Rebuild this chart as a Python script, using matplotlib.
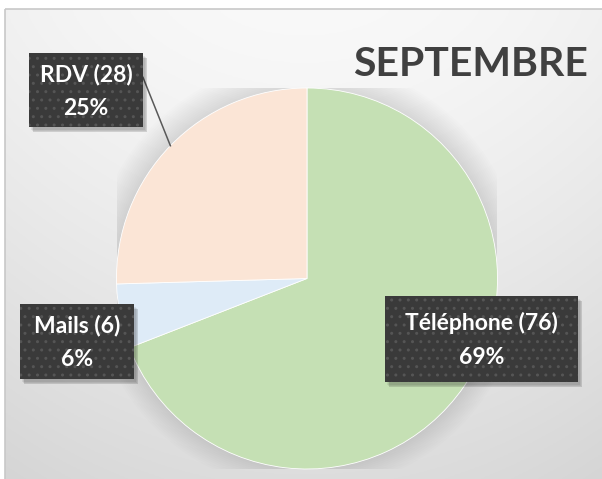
import numpy as np
import matplotlib
matplotlib.use("Agg")
import matplotlib.pyplot as plt
from matplotlib.patches import Rectangle, Circle

plt.rcParams['hatch.linewidth'] = 1.0

# données
categories = ['Téléphone', 'Mails', 'RDV']
valeurs = [76, 6, 28]
pourcentages = ['69%', '6%', '25%']
couleurs = ['#C5E0B4', '#DEEBF7', '#FBE5D6']
titre = 'SEPTEMBRE'

W, H = 602, 479
fig = plt.figure(figsize=(W / 100, H / 100), dpi=100)

# fond en pixels
bg = fig.add_axes([0, 0, 1, 1])
bg.set_xlim(0, W)
bg.set_ylim(H, 0)
bg.axis('off')
yy = np.linspace(0, 1, 200)[:, None]
xx = np.linspace(0, 1, 200)[None, :]
grad = 0.975 - 0.11 * yy ** 1.3 - 0.03 * (np.abs(xx - 0.5) * 2) ** 2
grad = np.clip(grad, 0, 1)
bg.imshow(np.dstack([grad] * 3), extent=[5, W + 2, H + 2, 9], aspect='auto', zorder=0)
bg.add_patch(Rectangle((5, 9), W, H, fill=False, edgecolor='#c8c8c8', lw=1.2, zorder=1))

# camembert
cx, cy, r = 307, 278.5, 190.5
ax = fig.add_axes([(cx - r) / W, (H - cy - r) / H, 2 * r / W, 2 * r / H])
for k in range(14):
    ax.add_patch(Circle((0, 0.015), 1.0 + 0.01 * k, color='#000000', alpha=0.007, lw=0, zorder=0))
wedges, _ = ax.pie(valeurs, colors=couleurs, startangle=90, counterclock=False,
                   wedgeprops=dict(linewidth=0.6, edgecolor='white'))
for w in wedges:
    w.set_zorder(2)
ax.set_xlim(-1, 1)
ax.set_ylim(-1, 1)
ax.set_aspect('equal')
ax.axis('off')

# calque du dessus pour les étiquettes
top = fig.add_axes([0, 0, 1, 1])
top.set_xlim(0, W)
top.set_ylim(H, 0)
top.axis('off')
top.patch.set_alpha(0)

boites = {
    'Téléphone': (385, 296, 193, 86),
    'Mails': (20, 304, 114, 75),
    'RDV': (29, 53, 114, 74),
}
for i, nom in enumerate(categories):
    x0, y0, bw, bh = boites[nom]
    for k in range(4):
        top.add_patch(Rectangle((x0 + 2 + k * 0.8, y0 + 3 + k * 0.8), bw, bh,
                                facecolor='black', alpha=0.07, lw=0, zorder=5))
    top.add_patch(Rectangle((x0, y0), bw, bh, facecolor='#3a3a3a', edgecolor='#555555',
                            hatch='..', lw=0, zorder=6))
    top.text(x0 + bw / 2, y0 + bh / 2 + 1, f'{nom} ({valeurs[i]})\n{pourcentages[i]}',
             ha='center', va='center', color='white', fontsize=16.5, fontweight='bold',
             family='Lato', linespacing=1.75, zorder=7)

# trait de rappel pour RDV
w = wedges[2]
ang = np.deg2rad((w.theta1 + w.theta2) / 2)
px = cx + r * np.cos(ang)
py = cy - r * np.sin(ang)
x0, y0, bw, bh = boites['RDV']
top.plot([x0 + bw, px], [y0 + bh * 0.33, py], color='#595959', lw=1.1, zorder=4)

top.text(588, 64, titre, ha='right', va='center', fontsize=29.5, fontweight='bold',
         color='#404040', family='Lato', zorder=7)

fig.savefig('out.png', dpi=100)
